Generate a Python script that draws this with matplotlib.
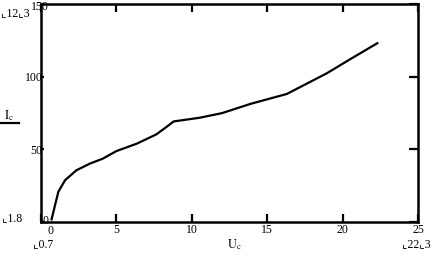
import numpy as np
import matplotlib
matplotlib.use('Agg')
import matplotlib.pyplot as plt
from matplotlib.transforms import ScaledTranslation
from matplotlib.lines import Line2D

# values (Mathcad style plot)
uc = [0.7, 1.15, 1.6, 2.35, 3.25, 4.1, 5.0, 6.35, 7.65, 8.45, 8.8,
      10.5, 12.0, 13.9, 16.3, 18.95, 20.5, 22.3]
ic = [1.8, 20.8, 28.8, 35.6, 40.2, 43.6, 48.8, 53.9, 60.3, 66.4, 69.2,
      71.7, 74.9, 81.3, 88.1, 102.3, 112.0, 123.0]

xticks = [0, 5, 10, 15, 20, 25]
yticks = [0, 50, 100, 150]

plt.rcParams['font.family'] = ['Liberation Serif', 'DejaVu Sans']
plt.rcParams['mathtext.fontset'] = 'stix'
fs = 8.5

fig = plt.figure(figsize=(4.33, 2.6), dpi=100)
W, H = 433, 260
ax = fig.add_axes([41 / W, (260 - 222) / H, (418 - 41) / W, (222 - 4) / H])

ax.plot(uc, ic, color='black', lw=1.6)
ax.set_xlim(0, 25)
ax.set_ylim(0, 150)

for s in ax.spines.values():
    s.set_linewidth(1.8)

ax.set_xticks(xticks)
ax.set_xticklabels([str(v) for v in xticks], fontsize=fs)
ax.set_yticks(yticks)
ax.set_yticklabels([str(v) for v in yticks], fontsize=fs)
ax.tick_params(axis='x', direction='in', length=6, width=1.6, top=True,
               bottom=True, pad=1.5)
ax.tick_params(axis='y', direction='in', length=2.5, width=1.6, left=True,
               right=True, pad=-1)
for t in ax.yaxis.get_major_ticks():
    t.tick2line.set_markersize(6.5)

# Mathcad shifts the end labels a bit
xl = ax.xaxis.get_major_ticks()
xl[0].label1.set_transform(xl[0].label1.get_transform() +
                           ScaledTranslation(10 / 100, -1 / 100, fig.dpi_scale_trans))
yl = ax.yaxis.get_major_ticks()
yl[0].label1.set_transform(yl[0].label1.get_transform() +
                           ScaledTranslation(6 / 100, 3 / 100, fig.dpi_scale_trans))
yl[-1].label1.set_transform(yl[-1].label1.get_transform() +
                            ScaledTranslation(6 / 100, -1 / 100, fig.dpi_scale_trans))

# axis names
fig.text(4 / W, 1 - 116 / H, r'$\mathrm{I_c}$', fontsize=9, ha='left', va='center')
fig.add_artist(Line2D([1 / W, 19 / W], [1 - 123 / H, 1 - 123 / H],
                      color='black', lw=1.6))
fig.text(234 / W, 1 - 245 / H, r'$\mathrm{U_c}$', fontsize=9, ha='center', va='center')

# range markers
fig.text(1 / W, 1 - 13 / H, '\u231e12\u231e3', fontsize=fs, ha='left', va='center')
fig.text(2 / W, 1 - 218 / H, '\u231e1.8', fontsize=fs, ha='left', va='center')
fig.text(33 / W, 1 - 244 / H, '\u231e0.7', fontsize=fs, ha='left', va='center')
fig.text(431 / W, 1 - 244 / H, '\u231e22\u231e3', fontsize=fs, ha='right', va='center')

fig.savefig('out.png', dpi=100)
